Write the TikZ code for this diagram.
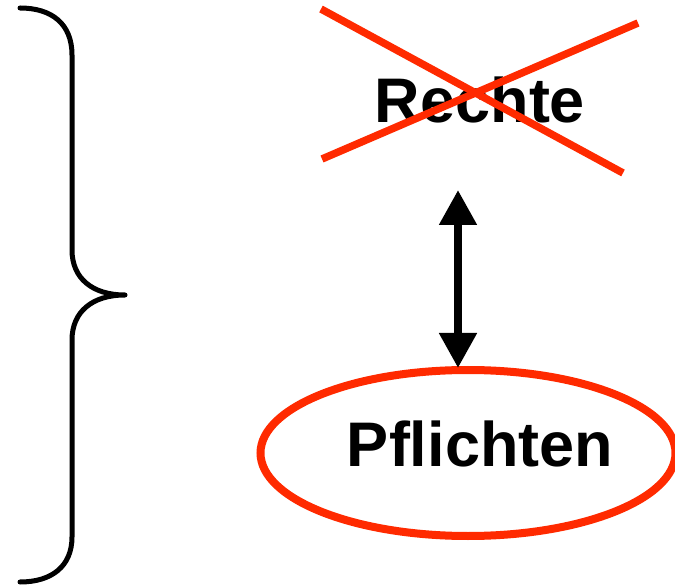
\documentclass[tikz,border=0pt]{standalone}
\usepackage{fontspec}
\setmainfont{Liberation Sans}
\usetikzlibrary{arrows.meta,shapes.geometric}
\definecolor{strikered}{HTML}{FF2A00}
\tikzset{
  bracepath/.style={draw=black, line width=5pt, line cap=round, line join=round},
  bigword/.style={font=\fontsize{63}{63}\selectfont\bfseries, inner sep=0pt, anchor=base},
  crossline/.style={draw=strikered, line width=7.5pt},
  ring/.style={ellipse, draw=strikered, line width=8pt, inner sep=0pt,
               minimum width=415pt, minimum height=166pt},
  bothways/.style={draw=black, line width=8pt,
                   {Triangle[width=36pt,length=35pt]}-{Triangle[width=36pt,length=35pt]}}
}
\begin{document}
\begin{tikzpicture}[x=1pt,y=-1pt]
  \useasboundingbox (0,0) rectangle (675,585);

  % left curly brace
  \coordinate (btop) at (20,8);
  \coordinate (btip) at (125,295);
  \coordinate (bbot) at (20,582);
  \draw[bracepath] (btop) .. controls (52,8) and (72,24) .. (72,55)
    -- (72,250) .. controls (72,278) and (92,295) .. (btip)
    .. controls (92,295) and (72,312) .. (72,340)
    -- (72,537) .. controls (72,566) and (52,582) .. (bbot);

  % crossed-out word
  \node[bigword] (rechte) at (480,123) {Rechte};
  \coordinate (xa1) at (321,9);
  \coordinate (xa2) at (623,173);
  \coordinate (xb1) at (322,159);
  \coordinate (xb2) at (638,23);
  \draw[crossline] (xa1) -- (xa2);
  \draw[crossline] (xb1) -- (xb2);

  % circled word
  \node[ring] (oval) at (468,453) {};
  \node[bigword] (pflichten) at (480,466) {Pflichten};

  % double-headed arrow
  \coordinate (atop) at (458,190);
  \coordinate (abot) at (458,368);
  \draw[bothways] (atop) -- (abot);
\end{tikzpicture}
\end{document}
